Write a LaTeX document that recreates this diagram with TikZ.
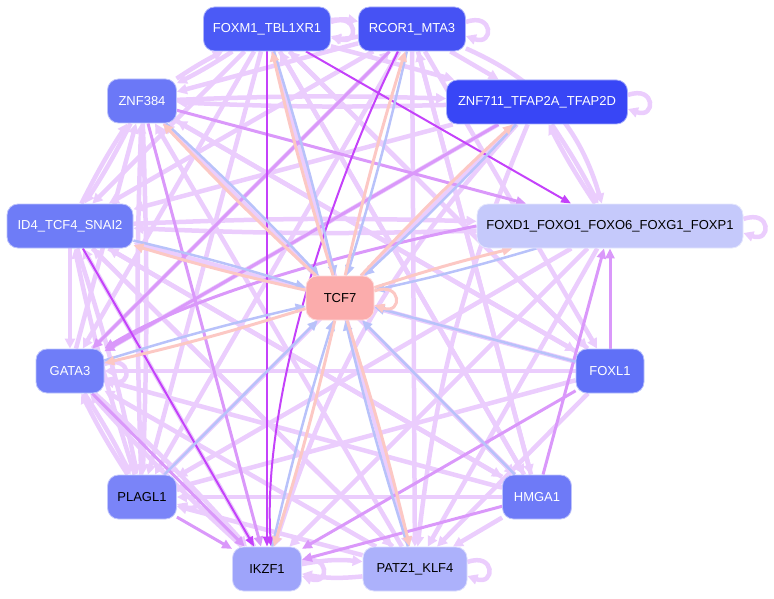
\documentclass[tikz,border=0pt]{standalone}
\usepackage{fontspec}
\setmainfont{Liberation Sans}
\usetikzlibrary{arrows.meta}
\definecolor{lp}{RGB}{235,205,253}
\definecolor{mp}{RGB}{218,152,250}
\definecolor{sp}{RGB}{196,66,250}
\definecolor{tb}{RGB}{184,194,250}
\definecolor{tp}{RGB}{252,200,196}
\definecolor{cF}{RGB}{75,90,246}
\definecolor{cR}{RGB}{70,82,244}
\definecolor{cZs}{RGB}{56,70,246}
\definecolor{cZt}{RGB}{107,120,247}
\definecolor{cID}{RGB}{110,124,247}
\definecolor{cG}{RGB}{111,125,248}
\definecolor{cFL}{RGB}{96,112,247}
\definecolor{cPL}{RGB}{122,132,248}
\definecolor{cH}{RGB}{110,122,247}
\definecolor{cI}{RGB}{158,164,250}
\definecolor{cP}{RGB}{172,177,251}
\definecolor{cFD}{RGB}{197,201,251}
\definecolor{cT}{RGB}{251,172,172}
\pgfdeclarelayer{bg}
\pgfsetlayers{bg,main}
\tikzset{
  tf/.style={rounded corners=11pt, minimum height=44pt, inner sep=0pt,
    font=\fontsize{13}{15}\selectfont, text=white, draw=white!55!#1, fill=#1, line width=0.8pt},
  tfk/.style={tf=#1, text=black},
  el/.style={draw=lp, line width=4.5pt, -{Triangle[length=10pt,width=10pt]}},
  em/.style={draw=mp, line width=3pt, -{Triangle[length=10pt,width=9pt]}},
  es/.style={draw=sp, line width=2pt, -{Triangle[length=10pt,width=8pt]}},
  eb/.style={draw=tb, line width=2.5pt, -{Triangle[length=10pt,width=9pt]}},
  ep/.style={draw=tp, line width=3pt, -{Triangle[length=10pt,width=9pt]}},
}
\begin{document}
\begin{tikzpicture}[x=1pt,y=-1pt]
\useasboundingbox (0,0) rectangle (774,599);
\node[tf=cF, minimum width=127pt] (F) at (267,29) {FOXM1\_TBL1XR1};
\node[tf=cR, minimum width=107pt] (R) at (412,29) {RCOR1\_MTA3};
\node[tf=cZs, minimum width=181pt] (Z7) at (537,102) {ZNF711\_TFAP2A\_TFAP2D};
\node[tf=cZt, minimum width=69pt] (Z3) at (142,101) {ZNF384};
\node[tfk=cFD, minimum width=266pt] (FD) at (610,226) {FOXD1\_FOXO1\_FOXO6\_FOXG1\_FOXP1};
\node[tf=cID, minimum width=126pt] (ID) at (70,226) {ID4\_TCF4\_SNAI2};
\node[tfk=cT, minimum width=68pt] (T) at (340,298) {TCF7};
\node[tf=cG, minimum width=68pt] (G) at (70,371) {GATA3};
\node[tf=cFL, minimum width=68pt] (FL) at (610,371) {FOXL1};
\node[tfk=cPL, minimum width=69pt] (PL) at (142,497) {PLAGL1};
\node[tf=cH, minimum width=69pt] (H) at (537,497) {HMGA1};
\node[tfk=cI, minimum width=69pt] (I) at (267,569) {IKZF1};
\node[tfk=cP, minimum width=104pt] (P) at (415,569) {PATZ1\_KLF4};
\begin{pgfonlayer}{bg}
% light edges
\draw[el] (F) to[bend left=3] (Z3);
\draw[el] (Z3) to[bend left=3] (F);
\draw[el] (F) -- (ID);
\draw[el] (F) -- (G);
\draw[el] (F) -- (PL);
\draw[el] (F) -- (P);
\draw[el] (F) -- (H);
\draw[el] (F) -- (FL);
\draw[el] (F) -- (Z7);
\draw[el] (F) to[bend left=8] (R);
\draw[el] (R) to[bend left=8] (F);
\draw[el] (R) -- (Z3);
\draw[el] (R) -- (ID);
\draw[el] (R) -- (PL);
\draw[el] (R) -- (P);
\draw[el] (R) -- (H);
\draw[el] (R) -- (FL);
\draw[el] (R) -- (Z7);
\draw[el] (R) to[bend left=25] (FD);
\draw[el] (Z7) to[bend left=3] (FD);
\draw[el] (FD) to[bend left=3] (Z7);
\draw[el] (Z3) to[bend left=2] (Z7);
\draw[el] (Z7) to[bend left=2] (Z3);
\draw[el] (Z7) -- (ID);
\draw[el] (Z7) -- (G);
\draw[el] (Z7) -- (PL);
\draw[el] (Z7) to[bend right=12] (I);
\draw[el] (Z7) to[bend right=8] (P);
\draw[el] (ID) to[bend left=2] (FD);
\draw[el] (FD) to[bend left=2] (ID);
\draw[el] (FD) -- (P);
\draw[el] (FD) -- (I);
\draw[el] (FD) -- (PL);
\draw[el] (FL) -- (G);
\draw[el] (FL) -- (ID);
\draw[el] (FL) -- (Z3);
\draw[el] (FL) -- (PL);
\draw[el] (FL) -- (P);
\draw[el] (H) -- (PL);
\draw[el] (H) -- (P);
\draw[el] (H) -- (G);
\draw[el] (H) -- (ID);
\draw[el] (H) -- (Z3);
\draw[el] (H) -- (F);
\draw[el] (H) -- (R);
\draw[el] (P) to[bend left=8] (I);
\draw[el] (I) to[bend left=8] (P);
\draw[el] (P) -- (PL);
\draw[el] (P) -- (G);
\draw[el] (P) -- (ID);
\draw[el] (P) -- (Z3);
\draw[el] (Z3) -- (H);
\draw[el] (Z3) -- (FL);
\draw[el] (I) to[bend left=3] (G);
\draw[el] (G) to[bend left=3] (I);
\draw[el] (PL) to[bend left=3] (G);
\draw[el] (G) to[bend left=3] (PL);
\draw[el] (PL) to[bend left=3] (ID);
\draw[el] (ID) to[bend left=3] (PL);
\draw[el] (PL) to[bend left=2] (Z3);
\draw[el] (Z3) to[bend left=2] (PL);
\draw[el] (ID) -- (G);
\draw[el] (ID) to[bend left=3] (Z3);
\draw[el] (Z3) to[bend left=3] (ID);
\draw[el] (G) -- (Z3);
\draw[el] (ID) -- (P);
\draw[el] (ID) -- (H);
\draw[el] (G) -- (R);
\draw[el] (FL) -- (F);
\draw[el] (I) -- (ID);
% self loops
\draw[el] ([yshift=7pt]F.east) .. controls +(28,-10) and +(28,10) .. ([yshift=-7pt]F.east);
\draw[el] ([yshift=7pt]R.east) .. controls +(28,-10) and +(28,10) .. ([yshift=-7pt]R.east);
\draw[el] ([yshift=7pt]Z7.east) .. controls +(28,-10) and +(28,10) .. ([yshift=-7pt]Z7.east);
\draw[el] ([yshift=7pt]FD.east) .. controls +(28,-10) and +(28,10) .. ([yshift=-7pt]FD.east);
\draw[el] ([yshift=7pt]P.east) .. controls +(28,-10) and +(28,10) .. ([yshift=-7pt]P.east);
\draw[el] ([yshift=7pt]I.east) .. controls +(28,-10) and +(28,10) .. ([yshift=-7pt]I.east);
\draw[el] ([yshift=7pt]G.east) .. controls +(28,-10) and +(28,10) .. ([yshift=-7pt]G.east);
\draw[el] ([yshift=7pt]PL.east) .. controls +(28,-10) and +(28,10) .. ([yshift=-7pt]PL.east);
% medium edges
\draw[em] (Z3) -- (FD);
\draw[em] (FL) -- (FD);
\draw[em] (H) -- (FD);
\draw[em] (FL) -- (I);
\draw[em] (H) -- (I);
\draw[em] (FD.west) .. controls (380,245) and (200,290) .. (G.north east);
\draw[em] (R) -- (G);
\draw[em] (Z3) -- (I);
\draw[em] (PL) -- (I);
\draw[em] (G) -- (I);
\draw[em] (Z7) -- (G);
% strong edges
\draw[es] (F) -- (FD);
\draw[es] (F) -- (I);
\draw[es] ([xshift=-14pt]R.south) .. controls (330,190) and (262,400) .. ([xshift=4pt]I.north);
\draw[es] (ID) -- (I);
% TCF7 edges
\foreach \n in {F,R,Z7,FD,ID,G,Z3,I,P}{
  \draw[eb] (\n) to[bend left=2] (T);
  \draw[ep] (T) to[bend left=2] (\n);
}
\foreach \n in {FL,H,PL}{
  \draw[eb] (\n) -- (T);
}
\draw[ep] ([yshift=7pt]T.east) .. controls +(28,-10) and +(28,10) .. ([yshift=-7pt]T.east);
\end{pgfonlayer}
\end{tikzpicture}
\end{document}
